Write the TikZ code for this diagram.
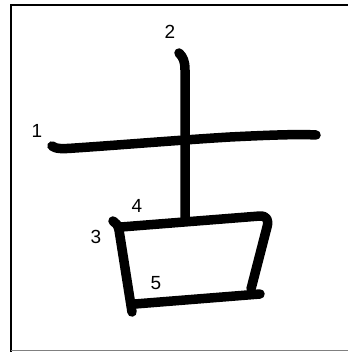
\documentclass[tikz,border=0pt]{standalone}
\usepackage{fontspec}
\setmainfont{Liberation Sans}
\begin{document}
\begin{tikzpicture}[x=1pt,y=-1pt,
  brush/.style={line width=9.5pt,line cap=round,line join=round},
  num/.style={font=\fontsize{19}{19}\selectfont,inner sep=0pt}]
\useasboundingbox (0,0) rectangle (348,352);
% frame
\draw[line width=2pt] (11,352) -- (11,5) -- (348,5);
\draw[line width=1pt,gray] (11,350.5) -- (348,350.5);
% stroke 1
\draw[brush] (52,146) .. controls (56,149) and (62,149) .. (75,148)
  .. controls (120,145) and (180,140) .. (230,137)
  .. controls (270,135) and (300,134) .. (316,135);
% stroke 2
\draw[brush] (179,53) .. controls (183,57) and (185,61) .. (185,70) -- (185,219);
% stroke 3
\draw[brush] (113,221) .. controls (116,223) and (118,225) .. (119,230) -- (132,312);
% stroke 4
\draw[brush] (121,227) -- (260,216) .. controls (267,216) and (269,220) .. (267,227) -- (251,289);
% stroke 5
\draw[brush] (135,304) -- (260,294);
% labels
\node[num] (n1) at (37,131) {1};
\node[num] (n2) at (170,32) {2};
\node[num] (n3) at (96,237) {3};
\node[num] (n4) at (137,206) {4};
\node[num] (n5) at (156,283) {5};
\end{tikzpicture}
\end{document}
